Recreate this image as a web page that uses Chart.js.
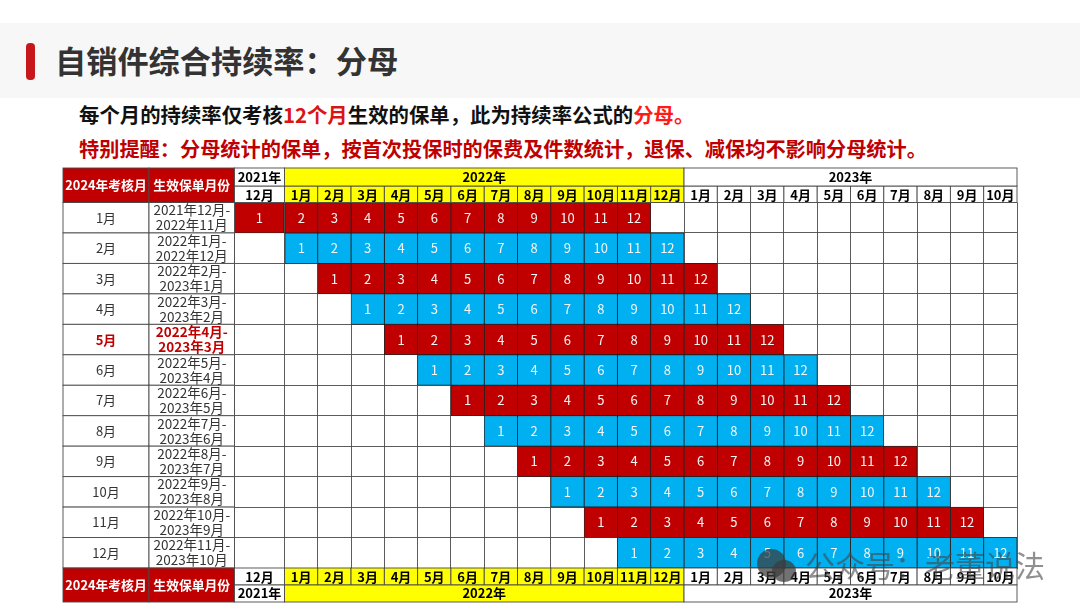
<!DOCTYPE html>
<html lang="zh">
<head>
<meta charset="utf-8">
<title>自销件综合持续率：分母</title>
<script src="https://cdn.jsdelivr.net/npm/chart.js@4"></script>
<style>
  html, body { margin: 0; padding: 0; background: #fff; }
  body { width: 1080px; height: 608px; position: relative; overflow: hidden; font-family: "Noto Sans CJK SC", "Noto Sans", sans-serif; }
  #band { position: absolute; left: 0; top: 23px; width: 1080px; height: 75px; background: #f7f7f7; }
  #pill { position: absolute; left: 26px; top: 43px; width: 9px; height: 37px; border-radius: 4px; background: #c8161d; }
  #title { position: absolute; left: 55px; top: 37px; font-size: 31.2px; line-height: 46px; font-weight: 700; color: #333; white-space: nowrap; }
  .note { position: absolute; left: 79px; line-height: 28px; font-weight: 700; white-space: nowrap; }
  #note1 { top: 100px; font-size: 20.4px; color: #111; }
  #note2 { top: 135px; font-size: 20.2px; color: #c00000; }
  #note1 .hi { color: #d91515; }
  #note1 .hot { color: #ff1a1a; }
  canvas { position: absolute; left: 0; top: 0; }
  #mark { position: absolute; left: 805px; top: 543px; font-size: 30px; line-height: 42px; color: rgba(70,70,70,.6); white-space: nowrap; }
  .dot { position: absolute; border-radius: 50%; }
</style>
</head>
<body>
<div id="band"></div>
<div id="pill"></div>
<div id="title">自销件综合持续率：分母</div>
<div class="note" id="note1">每个月的持续率仅考核<span class="hi">12个月</span>生效的保单，此为持续率公式的<span class="hot">分母。</span></div>
<div class="note" id="note2">特别提醒：分母统计的保单，按首次投保时的保费及件数统计，退保、减保均不影响分母统计。</div>
<canvas id="grid" width="1080" height="608"></canvas>
<div class="dot" style="left:757px;top:549px;width:29px;height:29px;background:rgba(60,60,60,.72)"></div>
<div class="dot" style="left:772px;top:560px;width:24px;height:22px;background:rgba(60,60,60,.72)"></div>
<div id="mark">公众号：老董说法</div>
<script>
const assessMonths = ['1月', '2月', '3月', '4月', '5月', '6月', '7月', '8月', '9月', '10月', '11月', '12月'];
const policyFrom = ['2021年12月-', '2022年1月-', '2022年2月-', '2022年3月-', '2022年4月-', '2022年5月-', '2022年6月-', '2022年7月-', '2022年8月-', '2022年9月-', '2022年10月-', '2022年11月-'];
const policyTo = ['2022年11月', '2022年12月', '2023年1月', '2023年2月', '2023年3月', '2023年4月', '2023年5月', '2023年6月', '2023年7月', '2023年8月', '2023年9月', '2023年10月'];
const columnMonths = ['12月', '1月', '2月', '3月', '4月', '5月', '6月', '7月', '8月', '9月', '10月', '11月', '12月', '1月', '2月', '3月', '4月', '5月', '6月', '7月', '8月', '9月', '10月'];
const columnEdges = [-1.5, 0, 1, 2, 3, 4, 5, 6, 7, 8, 9, 10, 11, 12, 13, 14, 15, 16, 17, 18, 19, 20, 21, 22];
const years = ['2021年', '2022年', '2023年'];
const yearFirstColumn = [0, 1, 13];
const yearLastColumn = [0, 12, 22];
const startColumns = [0, 1, 2, 3, 4, 5, 6, 7, 8, 9, 10, 11];
const periods = [1, 2, 3, 4, 5, 6, 7, 8, 9, 10, 11, 12];

const RED = '#c00000';
const BLUE = '#00b0f0';
const YELLOW = '#ffff00';
const LINE = '#4a4a4a';
const FONT = '"Noto Sans CJK SC", "Noto Sans", sans-serif';

const datasets = periods.map((period, k) => ({
  label: String(period),
  grouped: false,
  data: startColumns.map(c => [columnEdges[c + k], columnEdges[c + k + 1]]),
  backgroundColor: startColumns.map((c, r) => (r % 2 === 0 ? RED : BLUE)),
  borderColor: '#222',
  borderWidth: 0.8,
  borderSkipped: false,
  barPercentage: 1,
  categoryPercentage: 1
}));

function put(ctx, text, x, y, font, color) {
  ctx.font = font + ' ' + FONT;
  ctx.fillStyle = color;
  ctx.textAlign = 'center';
  ctx.textBaseline = 'middle';
  ctx.fillText(text, x, y);
}

function box(ctx, x0, y0, x1, y1, fill) {
  if (fill) {
    ctx.fillStyle = fill;
    ctx.fillRect(x0, y0, x1 - x0, y1 - y0);
  }
  ctx.strokeStyle = LINE;
  ctx.lineWidth = 0.9;
  ctx.strokeRect(x0, y0, x1 - x0, y1 - y0);
}

function columnFill(c) {
  return c >= 1 && c <= 12 ? YELLOW : '#fff';
}

// year band plus month band, used above and below the grid
function drawBands(ctx, xs, yearTop, yearBottom, monthTop, monthBottom) {
  columnMonths.forEach((m, c) => {
    const x0 = xs.getPixelForValue(columnEdges[c]);
    const x1 = xs.getPixelForValue(columnEdges[c + 1]);
    box(ctx, x0, monthTop, x1, monthBottom, columnFill(c));
    put(ctx, m, (x0 + x1) / 2, (monthTop + monthBottom) / 2 + 0.5, 'bold 13px', '#000');
  });
  years.forEach((year, i) => {
    const x0 = xs.getPixelForValue(columnEdges[yearFirstColumn[i]]);
    const x1 = xs.getPixelForValue(columnEdges[yearLastColumn[i] + 1]);
    box(ctx, x0, yearTop, x1, yearBottom, columnFill(yearFirstColumn[i]));
    put(ctx, year, (x0 + x1) / 2, (yearTop + yearBottom) / 2, 'bold 13px', '#000');
  });
}

const tablePlugin = {
  id: 'tablePlugin',
  afterDatasetsDraw(chart) {
    const ctx = chart.ctx;
    const xs = chart.scales.x;
    const ys = chart.scales.y;
    const area = chart.chartArea;
    const col0 = 63;
    const col1 = 149;
    const col2 = area.left;
    const step = ys.getPixelForTick(1) - ys.getPixelForTick(0);

    ctx.save();

    // numbers inside the coloured cells
    chart.data.datasets.forEach((ds, k) => {
      chart.getDatasetMeta(k).data.forEach(bar => {
        const p = bar.getCenterPoint();
        put(ctx, ds.label, p.x, p.y, '13px', '#f4f4f4');
      });
    });

    // left hand columns
    assessMonths.forEach((m, r) => {
      const y = ys.getPixelForTick(r);
      const hot = m === '5月';
      const color = hot ? RED : '#333';
      box(ctx, col0, y - step / 2, col1, y + step / 2, '#fff');
      box(ctx, col1, y - step / 2, col2, y + step / 2, '#fff');
      put(ctx, m, (col0 + col1) / 2, y, (hot ? 'bold ' : '') + '13px', color);
      put(ctx, policyFrom[r], (col1 + col2) / 2, y - 7.5, (hot ? 'bold ' : '') + '13.5px', color);
      put(ctx, policyTo[r], (col1 + col2) / 2, y + 7.5, (hot ? 'bold ' : '') + '13.5px', color);
    });

    // header and footer
    const headTop = 168;
    const headMid = 186;
    const footMid = 585;
    const footEnd = 602;
    [[headTop, area.top], [area.bottom, footEnd]].forEach(([a, b]) => {
      box(ctx, col0, a, col1, b, RED);
      box(ctx, col1, a, col2, b, RED);
      put(ctx, '2024年考核月', (col0 + col1) / 2, (a + b) / 2, 'bold 12.8px', '#fff');
      put(ctx, '生效保单月份', (col1 + col2) / 2, (a + b) / 2, 'bold 12.8px', '#fff');
    });
    drawBands(ctx, xs, headTop, headMid, headMid, area.top);
    drawBands(ctx, xs, footMid, footEnd, area.bottom, footMid);

    ctx.restore();
  }
};

new Chart(document.getElementById('grid').getContext('2d'), {
  type: 'bar',
  data: { labels: assessMonths, datasets: datasets },
  options: {
    indexAxis: 'y',
    responsive: false,
    animation: false,
    events: [],
    layout: { padding: { left: 234.5, right: 63, top: 202.5, bottom: 40 } },
    plugins: { legend: { display: false }, title: { display: false }, tooltip: { enabled: false } },
    scales: {
      x: {
        type: 'linear',
        min: -1.5,
        max: 22,
        afterBuildTicks: axis => { axis.ticks = columnEdges.map(v => ({ value: v })); },
        ticks: { display: false },
        grid: { color: LINE, lineWidth: 0.9, drawTicks: false },
        border: { color: LINE, width: 0.9 }
      },
      y: {
        ticks: { display: false },
        grid: { color: LINE, lineWidth: 0.9, drawTicks: false },
        border: { color: LINE, width: 0.9 }
      }
    }
  },
  plugins: [tablePlugin]
});
</script>
</body>
</html>
